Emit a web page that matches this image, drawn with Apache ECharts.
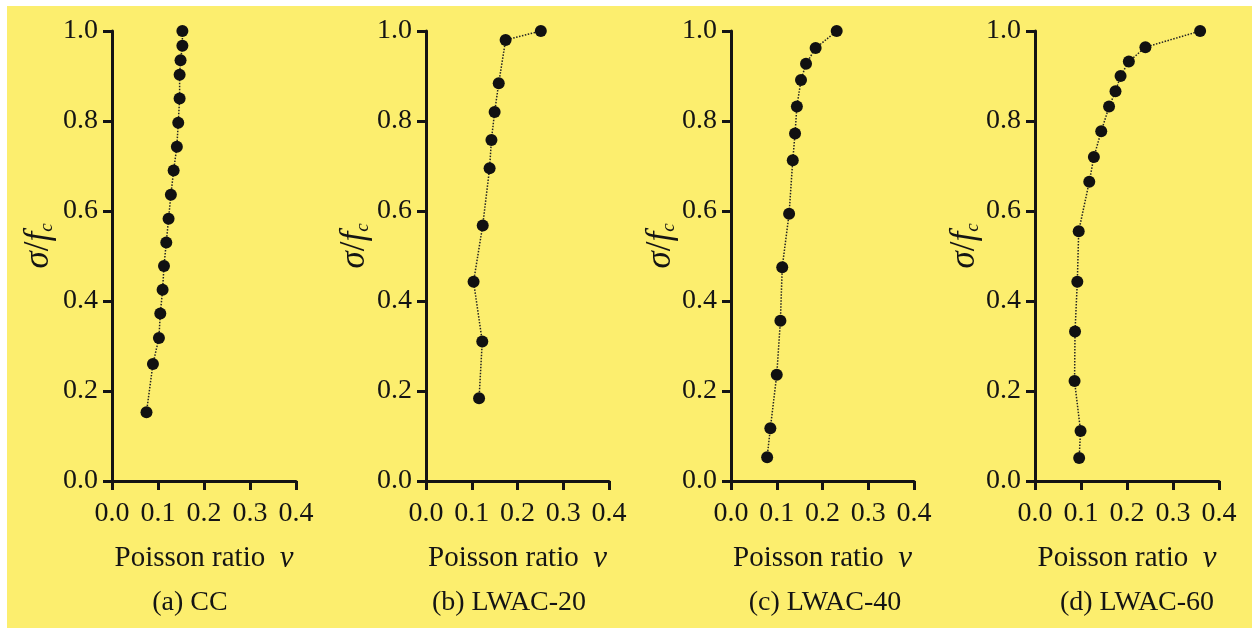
<!DOCTYPE html>
<html>
<head>
<meta charset="utf-8">
<title>Poisson ratio</title>
<script src="https://cdn.jsdelivr.net/npm/echarts@6/dist/echarts.min.js"></script>
<style>
  html, body { margin: 0; padding: 0; background: #fff; }
  #chart { width: 1252px; height: 628px; }
</style>
</head>
<body>
<div id="chart"></div>
<script>
// values: Poisson ratio (x) and sigma/fc (y)
var ccNu     = [0.075, 0.089, 0.102, 0.105, 0.110, 0.113, 0.118, 0.123, 0.128, 0.134, 0.141, 0.144, 0.147, 0.147, 0.149, 0.153, 0.153];
var ccStress = [0.153, 0.260, 0.318, 0.372, 0.425, 0.478, 0.530, 0.583, 0.636, 0.690, 0.743, 0.796, 0.850, 0.903, 0.935, 0.967, 1.000];

var lw20Nu     = [0.116, 0.123, 0.104, 0.124, 0.139, 0.143, 0.150, 0.159, 0.174, 0.251];
var lw20Stress = [0.184, 0.310, 0.443, 0.568, 0.695, 0.758, 0.820, 0.884, 0.980, 1.000];

var lw40Nu     = [0.079, 0.086, 0.100, 0.108, 0.112, 0.127, 0.135, 0.140, 0.144, 0.153, 0.164, 0.185, 0.231];
var lw40Stress = [0.053, 0.117, 0.236, 0.356, 0.475, 0.594, 0.713, 0.772, 0.832, 0.891, 0.927, 0.962, 1.000];

var lw60Nu     = [0.096, 0.099, 0.086, 0.087, 0.092, 0.095, 0.118, 0.128, 0.144, 0.161, 0.175, 0.186, 0.204, 0.240, 0.359];
var lw60Stress = [0.051, 0.111, 0.222, 0.332, 0.443, 0.555, 0.665, 0.720, 0.777, 0.832, 0.866, 0.900, 0.932, 0.964, 1.000];

var captions = ['(a) CC', '(b) LWAC-20', '(c) LWAC-40', '(d) LWAC-60'];

var panels = [
    { nu: ccNu, s: ccStress },
    { nu: lw20Nu, s: lw20Stress },
    { nu: lw40Nu, s: lw40Stress },
    { nu: lw60Nu, s: lw60Stress }
];

var FONT = "'Liberation Serif', 'Times New Roman', serif";
var INK = '#141414';
var gridLeft = [112, 426, 731, 1035];
var gridWidth = [184, 183, 183, 184];
var yNameGap = [56, 54, 49, 44];
var captionX = [190, 509, 825, 1137];

var grids = [], xAxes = [], yAxes = [], series = [], graphics = [];

// yellow panel, white strip on top and left like the scan
graphics.push({
    type: 'rect', z: -10, silent: true,
    shape: { x: 7, y: 6, width: 1245, height: 622 },
    style: { fill: '#fcee6e' }
});

for (var i = 0; i < panels.length; i++) {
    grids.push({ left: gridLeft[i], width: gridWidth[i], top: 31, height: 450 });

    xAxes.push({
        type: 'value', gridIndex: i, min: 0, max: 0.4, interval: 0.1,
        splitLine: { show: false },
        axisLine: { onZero: false, lineStyle: { color: INK, width: 3 } },
        axisTick: { length: 9, lineStyle: { color: INK, width: 3 } },
        axisLabel: {
            color: INK, fontFamily: FONT, fontSize: 28, margin: 19,
            formatter: function (v) { return v.toFixed(1); }
        },
        name: 'Poisson ratio  {nu|ν}',
        nameLocation: 'middle', nameGap: 62,
        nameTextStyle: {
            color: INK, fontFamily: FONT, fontSize: 29,
            rich: { nu: { fontFamily: FONT, fontStyle: 'italic', fontSize: 31, color: INK } }
        }
    });

    yAxes.push({
        type: 'value', gridIndex: i, min: 0, max: 1, interval: 0.2,
        splitLine: { show: false },
        axisLine: { onZero: false, lineStyle: { color: INK, width: 3 } },
        axisTick: { length: 9, lineStyle: { color: INK, width: 3 } },
        axisLabel: {
            color: INK, fontFamily: FONT, fontSize: 28, margin: 14,
            formatter: function (v) { return v.toFixed(1); }
        },
        name: '{it|σ}{n|/}{it|f}{sub|c}',
        nameLocation: 'middle', nameRotate: 90, nameGap: yNameGap[i],
        nameTextStyle: {
            color: INK, fontFamily: FONT, fontSize: 35,
            padding: [0, 0, 0, 20],
            rich: {
                it: { fontFamily: FONT, fontStyle: 'italic', fontSize: 35, color: INK },
                n: { fontFamily: FONT, fontSize: 35, color: INK },
                sub: { fontFamily: FONT, fontStyle: 'italic', fontSize: 19, color: INK, verticalAlign: 'bottom', padding: [16, 0, 0, 0] }
            }
        }
    });

    var pts = [];
    for (var j = 0; j < panels[i].nu.length; j++) {
        pts.push([panels[i].nu[j], panels[i].s[j]]);
    }
    series.push({
        type: 'line', xAxisIndex: i, yAxisIndex: i,
        data: pts,
        symbol: 'circle', symbolSize: 12,
        itemStyle: { color: '#111' },
        lineStyle: { color: '#222', width: 1.5, type: 'dotted' },
        animation: false
    });

    graphics.push({
        type: 'text',
        style: {
            text: captions[i], x: captionX[i], y: 603,
            textAlign: 'center', textVerticalAlign: 'middle',
            font: '28px ' + FONT, fill: INK
        }
    });
}

var chart = echarts.init(document.getElementById('chart'));
chart.setOption({
    backgroundColor: '#ffffff',
    animation: false,
    grid: grids,
    xAxis: xAxes,
    yAxis: yAxes,
    series: series,
    graphic: graphics
});
</script>
</body>
</html>
